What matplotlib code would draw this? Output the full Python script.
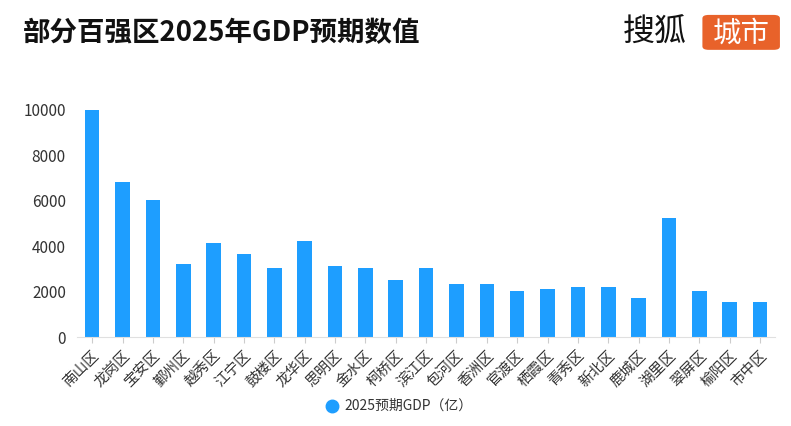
import matplotlib.pyplot as plt
from matplotlib.patches import FancyBboxPatch

plt.rcParams['font.family'] = ['Noto Sans CJK SC', 'DejaVu Sans']

districts = ['南山区', '龙岗区', '宝安区', '鄞州区', '越秀区', '江宁区', '鼓楼区', '龙华区',
             '思明区', '金水区', '柯桥区', '滨江区', '包河区', '香洲区', '官渡区', '栖霞区',
             '青秀区', '新北区', '鹿城区', '湖里区', '翠屏区', '榆阳区', '市中区']
gdp_2025 = [10000, 6850, 6050, 3230, 4130, 3640, 3030, 4230,
            3130, 3030, 2510, 3030, 2335, 2335, 2030, 2130,
            2220, 2220, 1720, 5230, 2030, 1545, 1545]

bar_color = '#1E9EFF'
text_color = '#333333'

fig = plt.figure(figsize=(7.91, 4.26), dpi=100)
ax = fig.add_axes([0.0973, 0.2089, 0.8827, 0.5329])

x = range(len(districts))
ax.bar(x, gdp_2025, width=0.48, color=bar_color, zorder=2)

ax.set_xlim(-0.5, len(districts) - 0.5)
ax.set_ylim(0, 10000)
ax.set_yticks([0, 2000, 4000, 6000, 8000, 10000])
ax.tick_params(axis='y', length=0, pad=8, labelsize=11, labelcolor=text_color)
ax.set_xticks(list(x))
ax.set_xticklabels(districts, rotation=45, ha='right', va='top',
                   rotation_mode='anchor', fontsize=10.5, color=text_color)
ax.tick_params(axis='x', length=4, color='#cccccc', pad=4)

for side in ['top', 'right', 'left']:
    ax.spines[side].set_visible(False)
ax.spines['bottom'].set_color('#e0e0e0')

# title
fig.text(0.029, 0.922, '部分百强区2025年GDP预期数值', fontsize=19.8, fontweight='bold',
         color='#111111', ha='left', va='center')

# logo
fig.text(0.787, 0.922, '搜狐', fontsize=23, color='#111111', ha='left', va='center')
box = FancyBboxPatch((0.888, 0.883), 0.098, 0.082, boxstyle='round,pad=0,rounding_size=0.008',
                     transform=fig.transFigure, facecolor='#E8622A', edgecolor='none')
fig.patches.append(box)
fig.text(0.937, 0.922, '城市', fontsize=20.5, color='white', ha='center', va='center')

# legend
fig.lines.append(plt.Line2D([0.4195], [0.047], marker='o', markersize=9, color=bar_color,
                            transform=fig.transFigure, linestyle='none'))
fig.text(0.435, 0.047, '2025预期GDP（亿）', fontsize=10, color=text_color,
         ha='left', va='center')

fig.savefig('out.png', dpi=100)
